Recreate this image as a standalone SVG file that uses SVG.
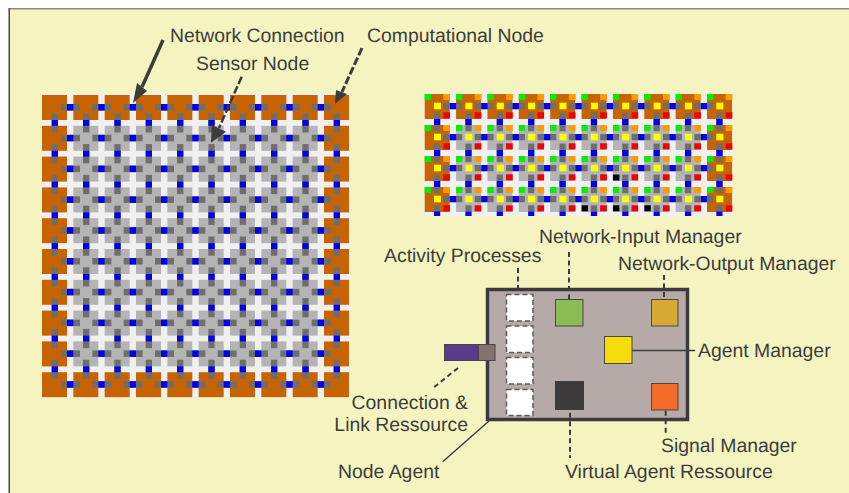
<svg xmlns="http://www.w3.org/2000/svg" width="849" height="493" viewBox="0 0 849 493">
<style>
text{font-family:"Liberation Sans",Arial,sans-serif;font-size:19.4px;fill:#3c3c3c;text-rendering:geometricPrecision}
.o{fill:#c86400}.s{fill:#b4b4b4}.g{fill:#6e6e6e}.b{fill:#0000f0}
.gn{fill:#00f000}.am{fill:#ff9a00}.ye{fill:#ffff00}.rd{fill:#f00000}.k{fill:#000}
.lead{stroke:#3c3c3c;stroke-width:2;fill:none}
.dash{stroke:#3c3c3c;stroke-width:2;fill:none;stroke-dasharray:5 3.5}
.head{fill:#3c3c3c}
.proc{fill:#fff;stroke:#5f5a5a;stroke-width:1.5;stroke-dasharray:5 3}
.box{stroke:#4a4646;stroke-width:1}
</style>
<defs>
<rect id="o" class="o" width="25" height="25"/>
<rect id="s" class="s" width="25" height="25"/>
<g id="hc"><rect class="g" x="19" y="9" width="19" height="6.5"/><rect class="b" x="25" y="9" width="6.3" height="6.5"/></g>
<g id="vc"><rect class="g" x="9.7" y="18.3" width="6.3" height="19.2"/><rect class="b" x="9.7" y="25" width="6.3" height="5.8"/></g>
<g id="nrowO"><use href="#o"/><use href="#o" x="31.33"/><use href="#o" x="62.67"/><use href="#o" x="94"/><use href="#o" x="125.33"/><use href="#o" x="156.67"/><use href="#o" x="188"/><use href="#o" x="219.33"/><use href="#o" x="250.67"/><use href="#o" x="282"/></g>
<g id="nrowM"><use href="#o"/><use href="#s" x="31.33"/><use href="#s" x="62.67"/><use href="#s" x="94"/><use href="#s" x="125.33"/><use href="#s" x="156.67"/><use href="#s" x="188"/><use href="#s" x="219.33"/><use href="#s" x="250.67"/><use href="#o" x="282"/></g>
<g id="hrow"><use href="#hc"/><use href="#hc" x="31.33"/><use href="#hc" x="62.67"/><use href="#hc" x="94"/><use href="#hc" x="125.33"/><use href="#hc" x="156.67"/><use href="#hc" x="188"/><use href="#hc" x="219.33"/><use href="#hc" x="250.67"/></g>
<g id="vrow"><use href="#vc"/><use href="#vc" x="31.33"/><use href="#vc" x="62.67"/><use href="#vc" x="94"/><use href="#vc" x="125.33"/><use href="#vc" x="156.67"/><use href="#vc" x="188"/><use href="#vc" x="219.33"/><use href="#vc" x="250.67"/><use href="#vc" x="282"/></g>

<g id="rO"><use href="#o"/><use href="#o" x="31.37"/><use href="#o" x="62.74"/><use href="#o" x="94.11"/><use href="#o" x="125.48"/><use href="#o" x="156.85"/><use href="#o" x="188.22"/><use href="#o" x="219.59"/><use href="#o" x="250.96"/><use href="#o" x="282.33"/></g>
<g id="rM"><use href="#o"/><use href="#s" x="31.37"/><use href="#s" x="62.74"/><use href="#s" x="94.11"/><use href="#s" x="125.48"/><use href="#s" x="156.85"/><use href="#s" x="188.22"/><use href="#s" x="219.59"/><use href="#s" x="250.96"/><use href="#o" x="282.33"/></g>
<g id="rh"><rect class="g" x="18.7" y="9" width="18.8" height="6.2"/><rect class="b" x="25.3" y="9" width="6.1" height="6.2"/></g>
<g id="rv"><rect class="g" x="9.3" y="18.6" width="6.2" height="18.6"/><rect class="b" x="9.3" y="25" width="6.2" height="6"/></g>
<g id="rvEnd"><rect class="g" x="9.3" y="18.3" width="6.2" height="6.2"/><rect class="b" x="9.3" y="24.5" width="6.2" height="4.5"/></g>
<g id="dots"><rect class="gn" width="6.3" height="6"/><rect class="am" x="18.6" width="6.7" height="6"/><rect class="ye" x="9.3" y="8.7" width="7" height="6.6"/><rect class="rd" x="18.6" y="18.3" width="6.7" height="6"/></g>
<g id="rHrow"><use href="#rh"/><use href="#rh" x="31.37"/><use href="#rh" x="62.74"/><use href="#rh" x="94.11"/><use href="#rh" x="125.48"/><use href="#rh" x="156.85"/><use href="#rh" x="188.22"/><use href="#rh" x="219.59"/><use href="#rh" x="250.96"/></g>
<g id="rVrow"><use href="#rv"/><use href="#rv" x="31.37"/><use href="#rv" x="62.74"/><use href="#rv" x="94.11"/><use href="#rv" x="125.48"/><use href="#rv" x="156.85"/><use href="#rv" x="188.22"/><use href="#rv" x="219.59"/><use href="#rv" x="250.96"/><use href="#rv" x="282.33"/></g>
<g id="rVend"><use href="#rvEnd"/><use href="#rvEnd" x="31.37"/><use href="#rvEnd" x="62.74"/><use href="#rvEnd" x="94.11"/><use href="#rvEnd" x="125.48"/><use href="#rvEnd" x="156.85"/><use href="#rvEnd" x="188.22"/><use href="#rvEnd" x="219.59"/><use href="#rvEnd" x="250.96"/><use href="#rvEnd" x="282.33"/></g>
<g id="rDots"><use href="#dots"/><use href="#dots" x="31.37"/><use href="#dots" x="62.74"/><use href="#dots" x="94.11"/><use href="#dots" x="125.48"/><use href="#dots" x="156.85"/><use href="#dots" x="188.22"/><use href="#dots" x="219.59"/><use href="#dots" x="250.96"/><use href="#dots" x="282.33"/></g>
</defs>

<rect width="849" height="493" fill="#fff"/>
<rect x="9" y="8" width="840" height="485" fill="#f5f4c1"/>
<rect x="9" y="8" width="840" height="1.5" fill="#8a8a80"/>
<rect x="8.5" y="8" width="1.5" height="485" fill="#45453f"/>

<g id="sensor-grid">
<rect x="41" y="93" width="309.5" height="305" fill="#f0f0f0"/>
<g transform="translate(42 95)">
<use href="#nrowO"/><use href="#nrowM" y="30.8"/><use href="#nrowM" y="61.6"/><use href="#nrowM" y="92.4"/><use href="#nrowM" y="123.2"/><use href="#nrowM" y="154"/><use href="#nrowM" y="184.8"/><use href="#nrowM" y="215.6"/><use href="#nrowM" y="246.4"/><use href="#nrowO" y="277.2"/>
<use href="#hrow"/><use href="#hrow" y="30.8"/><use href="#hrow" y="61.6"/><use href="#hrow" y="92.4"/><use href="#hrow" y="123.2"/><use href="#hrow" y="154"/><use href="#hrow" y="184.8"/><use href="#hrow" y="215.6"/><use href="#hrow" y="246.4"/><use href="#hrow" y="277.2"/>
<use href="#vrow"/><use href="#vrow" y="30.8"/><use href="#vrow" y="61.6"/><use href="#vrow" y="92.4"/><use href="#vrow" y="123.2"/><use href="#vrow" y="154"/><use href="#vrow" y="184.8"/><use href="#vrow" y="215.6"/><use href="#vrow" y="246.4"/>
</g>
</g>

<g id="agent-grid">
<rect x="424" y="93.5" width="308.5" height="122.5" fill="#f0f0f0"/>
<g transform="translate(424.7 94)">
<use href="#rO"/><use href="#rM" y="31"/><use href="#rM" y="62"/><use href="#rM" y="93"/>
<use href="#rHrow"/><use href="#rHrow" y="31"/><use href="#rHrow" y="62"/><use href="#rHrow" y="93"/>
<use href="#rVrow"/><use href="#rVrow" y="31"/><use href="#rVrow" y="62"/><use href="#rVend" y="93"/>
<use href="#rDots"/><use href="#rDots" y="31"/><use href="#rDots" y="62"/><use href="#rDots" y="93"/>
<rect class="k" x="156.85" y="111.3" width="6.5" height="6"/>
<rect class="k" x="188.22" y="80.5" width="6.5" height="6"/>
<rect class="k" x="188.22" y="111.3" width="6.5" height="6"/>
<rect class="k" x="219.59" y="111.3" width="6.5" height="6"/>
</g>
</g>

<g id="node-agent">
<rect x="487.5" y="289.5" width="200" height="130" fill="#b5aaa7" stroke="#3c3a3e" stroke-width="3.5"/>
</g>
<g id="activity-processes">
<rect class="proc" x="506.5" y="294.5" width="26.5" height="26.5"/>
<rect class="proc" x="506.5" y="326" width="26.5" height="26.5"/>
<rect class="proc" x="506.5" y="357.5" width="26.5" height="26.5"/>
<rect class="proc" x="506.5" y="389.5" width="26.5" height="26"/>
</g>
<g id="connection-link">
<rect class="box" x="444.5" y="344.5" width="33" height="16" fill="#5b3a8c"/>
<rect class="box" x="478.5" y="344.5" width="16.5" height="16" fill="#83736f"/>
</g>
<g id="network-input"><rect class="box" x="555.5" y="299.5" width="27.5" height="26.5" fill="#8abb55"/></g>
<g id="network-output"><rect class="box" x="651.5" y="299.5" width="26.5" height="26.5" fill="#d5a933"/></g>
<g id="agent-manager"><rect class="box" x="604.5" y="336.5" width="27.5" height="27" fill="#f6dc0a"/></g>
<g id="virtual-agent"><rect x="555" y="381" width="29" height="29" fill="#3c3a3b"/></g>
<g id="signal-manager"><rect class="box" x="651.5" y="383.5" width="26.5" height="26.5" fill="#f46a28"/></g>

<g id="connectors">
<path class="lead" style="stroke-width:3.5" d="M163 40 142 87"/>
<polygon class="head" points="133,103 137,83 147,91"/>
<path class="dash" style="stroke-width:3;stroke-dasharray:8 2.5" d="M362 48 342 92"/>
<polygon class="head" points="335,104 336,90 347,94"/>
<path class="dash" style="stroke-width:2.5;stroke-dasharray:8 2.5" d="M241.7 76.7 219 128"/>
<polygon class="head" points="211,142.7 211.7,125 226,131.7"/>
<path class="dash" d="M518 268V288"/>
<path class="dash" d="M569 252V299"/>
<path class="dash" d="M664 275V299"/>
<path class="lead" style="stroke-width:1.5" d="M632 350.5H695"/>
<path class="dash" d="M665.7 410.7V433"/>
<path class="dash" d="M570 412.7V458"/>
<path class="lead" style="stroke-width:1.5" d="M489 421 442.7 461.7"/>
<path class="dash" d="M458 368 433 388"/>
</g>

<g id="labels">
<text x="170" y="42">Network Connection</text>
<text x="367" y="42">Computational Node</text>
<text x="196" y="70">Sensor Node</text>
<text x="539" y="243">Network-Input Manager</text>
<text x="384" y="262">Activity Processes</text>
<text x="618" y="270">Network-Output Manager</text>
<text x="698" y="356.5">Agent Manager</text>
<text x="468" y="409" text-anchor="end">Connection &amp;</text>
<text x="468" y="431" text-anchor="end">Link Ressource</text>
<text x="338" y="477.5">Node Agent</text>
<text x="661" y="452">Signal Manager</text>
<text x="565" y="477.5">Virtual Agent Ressource</text>
</g>
</svg>
